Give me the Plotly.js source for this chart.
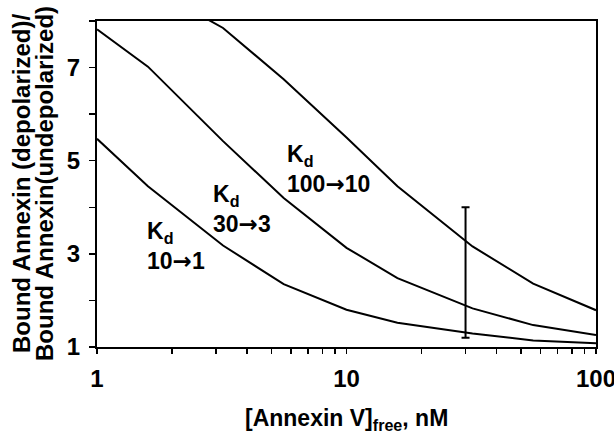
<!DOCTYPE html>
<html>
<head>
<meta charset="utf-8">
<script src="https://cdn.plot.ly/plotly-3.0.1.min.js"></script>
<style>
html,body{margin:0;padding:0;background:#fff;}
#chart{width:614px;height:434px;}
</style>
</head>
<body>
<div id="chart"></div>
<script>
// Data
const annexinFree = [1, 1.6, 3.2, 5.6, 10, 16, 32, 56, 100];
const kd10to1   = [5.47, 4.45, 3.18, 2.35, 1.80, 1.52, 1.29, 1.14, 1.08];
const kd30to3   = [7.82, 7.02, 5.42, 4.20, 3.13, 2.48, 1.83, 1.47, 1.26];
const kd100to10 = [9.20, 8.75, 7.85, 6.75, 5.50, 4.45, 3.16, 2.36, 1.79];

const errX = [30];
const errLow = [1.2];
const errHigh = [4.0];

const ARROW = "<span style=\"font-family:'DejaVu Sans'\">\u2192</span>";
const curveLabels = ["K<sub>d</sub><br>10" + ARROW + "1", "K<sub>d</sub><br>30" + ARROW + "3", "K<sub>d</sub><br>100" + ARROW + "10"];
const labelX = [1.56, 2.86, 5.68];
const labelY = [3.16, 3.96, 4.83];

const yTitleLines = ["Bound Annexin (depolarized)/", "Bound Annexin(undepolarized)"];
const xTitle = "[Annexin V]<sub>free</sub>, nM";

const xTickVals = [1,2,3,4,5,6,7,8,9,10,20,30,40,50,60,70,80,90,100];
const xTickText = ["1","","","","","","","","","10","","","","","","","","","100"];
const yTickVals = [1,2,3,4,5,6,7,8];
const yTickText = ["1","","3","","5","","7",""];

const FONT = "Liberation Sans, Arial, Helvetica, sans-serif";

function curve(y){
  return {x: annexinFree, y: y, type: 'scatter', mode: 'lines',
          line: {color: '#000', width: 2}, hoverinfo: 'skip', showlegend: false};
}

const errMid = errLow.map((lo, i) => (lo + errHigh[i]) / 2);
const traces = [
  curve(kd10to1), curve(kd30to3), curve(kd100to10),
  {x: errX, y: errMid, type: 'scatter', mode: 'markers',
   marker: {size: 1, color: 'rgba(0,0,0,0)'},
   error_y: {type: 'data', symmetric: false,
             array: errHigh.map((h, i) => h - errMid[i]),
             arrayminus: errLow.map((l, i) => errMid[i] - l),
             color: '#000', thickness: 2, width: 4},
   showlegend: false, hoverinfo: 'skip'}
];

const annotations = curveLabels.map((t, i) => ({
  x: Math.log10(labelX[i]), y: labelY[i], xref: 'x', yref: 'y',
  text: t, showarrow: false, xanchor: 'left', yanchor: 'middle', align: 'left',
  font: {family: FONT, size: 23, color: '#000', weight: 'bold'}
}));
const yTitleShift = [-76, -53];
yTitleLines.forEach((t, i) => annotations.push({
  x: 0, y: 0.5, xref: 'paper', yref: 'paper', xanchor: 'center', yanchor: 'middle',
  xshift: yTitleShift[i], textangle: -90, text: t, showarrow: false,
  font: {family: FONT, size: 24, color: '#000', weight: 'bold'}
}));
annotations.push({
  x: 0.5, y: 0, xref: 'paper', yref: 'paper', xanchor: 'center', yanchor: 'middle',
  yshift: -72, text: xTitle, showarrow: false,
  font: {family: FONT, size: 23, color: '#000', weight: 'bold'}
});

const layout = {
  width: 614, height: 434,
  margin: {l: 97, r: 18, t: 21, b: 87},
  paper_bgcolor: '#fff', plot_bgcolor: '#fff',
  font: {family: FONT, color: '#000', weight: 'bold'},
  showlegend: false,
  xaxis: {
    type: 'log', range: [0, 2],
    tickvals: xTickVals, ticktext: xTickText,
    ticks: 'outside', ticklen: 5, tickwidth: 1.5, tickcolor: '#000',
    showline: true, linewidth: 2, linecolor: '#000', mirror: true,
    showgrid: false, zeroline: false, ticklabelstandoff: 4,
    ticklabeloverflow: 'allow',
    tickfont: {family: FONT, size: 24, color: '#000', weight: 'bold'}
  },
  yaxis: {
    range: [1, 8],
    tickvals: yTickVals, ticktext: yTickText,
    ticks: 'outside', ticklen: 6, tickwidth: 1.5, tickcolor: '#000',
    showline: true, linewidth: 2, linecolor: '#000', mirror: true,
    showgrid: false, zeroline: false, ticklabelstandoff: 4,
    tickfont: {family: FONT, size: 24, color: '#000', weight: 'bold'}
  },
  annotations: annotations
};

Plotly.newPlot('chart', traces, layout, {displayModeBar: false, staticPlot: true});
</script>
</body>
</html>
